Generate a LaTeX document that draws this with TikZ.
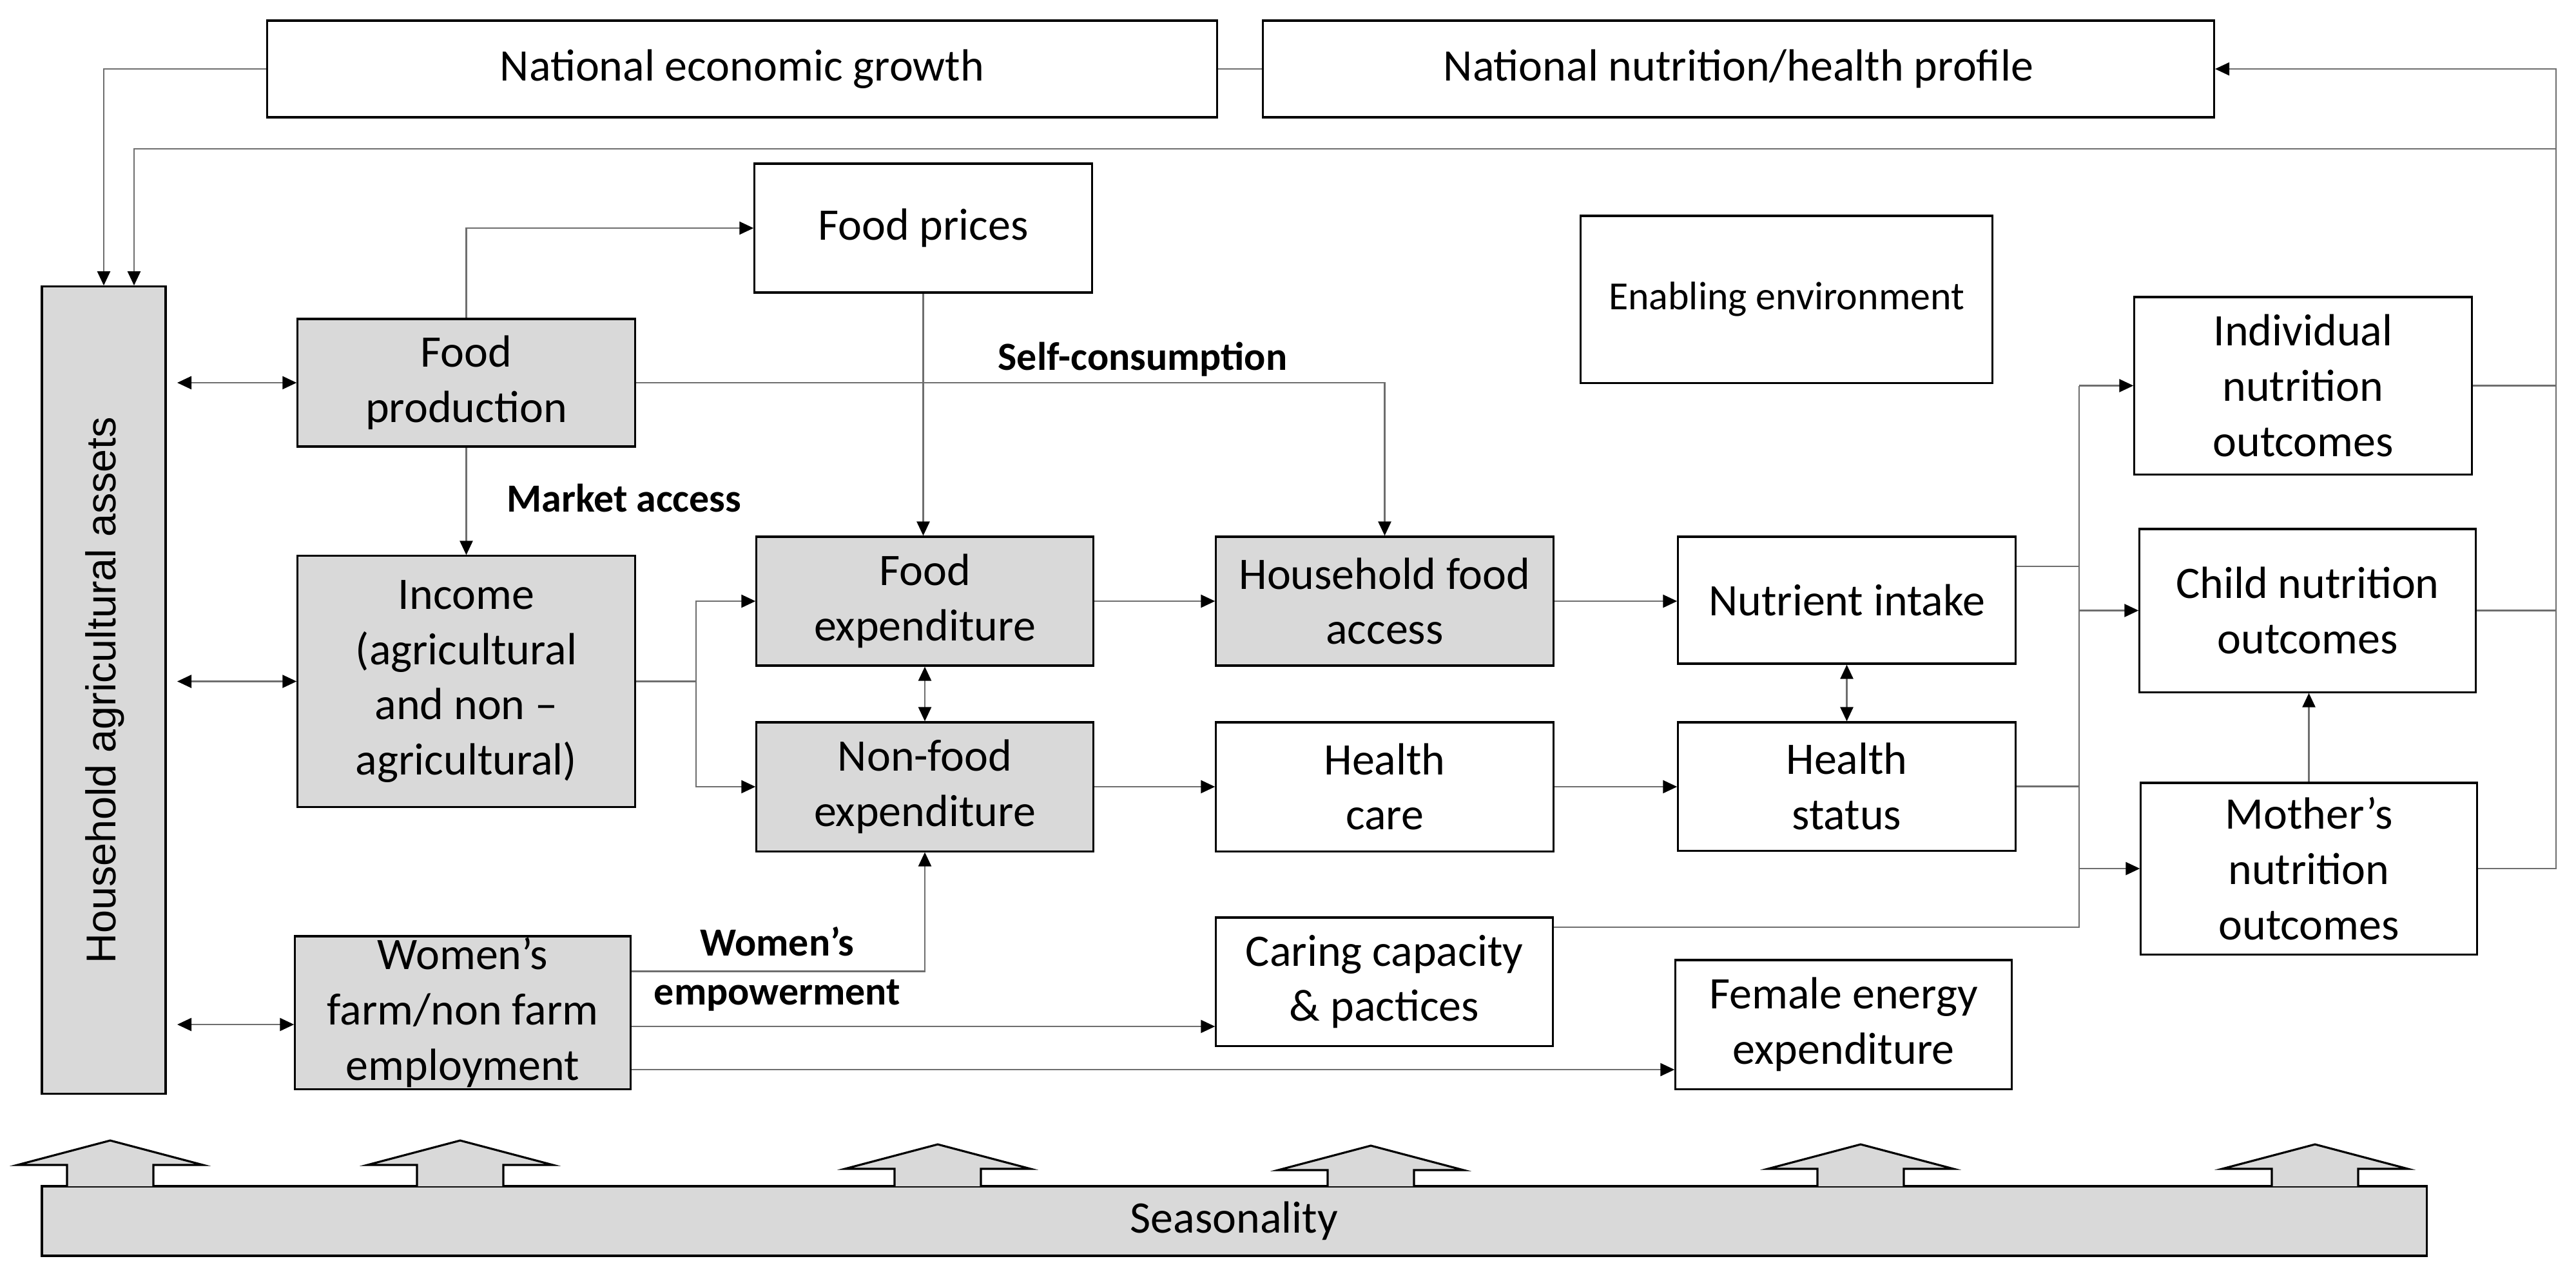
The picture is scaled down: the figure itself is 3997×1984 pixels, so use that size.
\documentclass[tikz,border=0pt]{standalone}
\usepackage{fontspec}
\setmainfont{Carlito}
\newfontfamily\haafont{Liberation Sans}
\usetikzlibrary{arrows.meta}
\definecolor{boxgray}{HTML}{D9D9D9}
\definecolor{linegray}{HTML}{6E6E6E}
\begin{document}
\begin{tikzpicture}[x=0.01cm,y=-0.01cm,
  box/.style={draw=black, line width=0.9pt, fill=white, inner sep=0pt, align=center,
    font=\fontsize{19.9pt}{24.4pt}\selectfont},
  gbox/.style={box, fill=boxgray},
  conn/.style={draw=linegray, line width=0.75pt},
  arr/.style={conn, -{Triangle[length=0.22cm,width=0.2cm,color=black]}},
  dbl/.style={conn, {Triangle[length=0.22cm,width=0.2cm,color=black]}-{Triangle[length=0.22cm,width=0.2cm,color=black]}},
  lab/.style={font=\bfseries\fontsize{17.6pt}{21.6pt}\selectfont, inner sep=0pt, align=center},
  blockarr/.style={draw=black, line width=0.9pt, fill=boxgray, line join=miter},
]
\useasboundingbox (0,0) rectangle (3997,1984);

% nodes
\node[box, minimum width=14.73cm, minimum height=1.50cm] (neg) at (1151.5,107) {National economic growth};
\node[box, minimum width=14.75cm, minimum height=1.50cm] (nnhp) at (2697.5,107) {National nutrition/health profile};
\node[box, minimum width=5.23cm, minimum height=2.00cm] (fp) at (1432.5,354) {Food prices};
\node[box, minimum width=6.38cm, minimum height=2.59cm, font=\fontsize{17.6pt}{21.6pt}\selectfont] (ee) at (2772,464.5) {Enabling environment};
\node[gbox, minimum width=5.23cm, minimum height=1.98cm] (fprod) at (723.5,594) {Food\\production};
\node[gbox, minimum width=1.92cm, minimum height=12.52cm] (haa) at (161,1071) {};
\node[rotate=90, inner sep=0pt, font=\haafont\fontsize{18.4pt}{22pt}\selectfont] (haatext) at (163,1071) {Household agricultural assets};
\node[gbox, minimum width=5.23cm, minimum height=3.89cm] (inc) at (723.5,1057.5) {Income\\(agricultural\\and non --\\agricultural)};
\node[gbox, minimum width=5.22cm, minimum height=2.00cm] (fe) at (1435,933) {Food\\expenditure};
\node[gbox, minimum width=5.22cm, minimum height=2.00cm] (nfe) at (1435,1221) {Non-food\\expenditure};
\node[gbox, minimum width=5.23cm, minimum height=2.00cm] (hfa) at (2148.5,933) {Household food\\access};
\node[box, minimum width=5.23cm, minimum height=2.00cm] (hc) at (2148.5,1221) {Health\\care};
\node[box, minimum width=5.23cm, minimum height=1.97cm] (ni) at (2865.5,931.5) {Nutrient intake};
\node[box, minimum width=5.23cm, minimum height=1.99cm] (hs) at (2865.5,1220.5) {Health\\status};
\node[box, minimum width=5.23cm, minimum height=2.75cm] (ino) at (3573.5,598.5) {Individual\\nutrition\\outcomes};
\node[box, minimum width=5.21cm, minimum height=2.53cm] (cno) at (3580.5,947.5) {Child nutrition\\outcomes};
\node[box, minimum width=5.21cm, minimum height=2.66cm] (mno) at (3582.5,1348) {Mother’s\\nutrition\\outcomes};
\node[box, minimum width=5.22cm, minimum height=1.99cm] (cc) at (2148,1523.5) {Caring capacity\\\& pactices};
\node[box, minimum width=5.21cm, minimum height=2.00cm] (fee) at (2860.5,1590) {Female energy\\expenditure};
\node[gbox, minimum width=5.20cm, minimum height=2.37cm] (wom) at (718,1571.5) {Women’s\\farm/non farm\\employment};
\node[gbox, minimum width=36.98cm, minimum height=1.08cm] (seas) at (1915,1895) {Seasonality};

% labels
\node[lab, anchor=base] (sclab) at (1773,574) {Self-consumption};
\node[lab, anchor=base west] (malab) at (786,794) {Market access};
\node[lab] (welab) at (1206,1504) {Women’s\\empowerment};

% helper coordinates
\coordinate (R) at (3966,231);
\coordinate (L) at (208,231);
\coordinate (hx) at (275,0);
\coordinate (ib) at (1080,1058);
\coordinate (V) at (3226,600);

% top connectors
\draw[conn] (neg.east) -- (nnhp.west);
\draw[arr] (neg.west) -| (haa.north);
\draw[arr] (R) -- (L) -- (L |- haa.north);
\draw[conn] (ino.east) -- (ino.east -| R);
\draw[conn] (cno.east) -- (cno.east -| R);
\draw[arr] (mno.east) -- (mno.east -| R) -- (R |- nnhp.east) -- (nnhp.east);

% food production
\draw[arr] (fprod.north) |- (fp.west);
\draw[arr] (fprod.east) -| (hfa.north);
\draw[arr] (fp.south) -- (fp.south |- fe.north);
\draw[arr] (fprod.south) -- (inc.north);

% assets double arrows
\draw[dbl] (hx |- fprod.west) -- (fprod.west);
\draw[dbl] (hx |- inc.west) -- (inc.west);
\path ([yshift=-0.185cm]wom.west) coordinate (ww);
\draw[dbl] (hx |- ww) -- (ww);

% income branch
\draw[conn] (inc.east) -- (inc.east -| ib);
\draw[arr] (inc.east -| ib) |- (fe.west);
\draw[arr] (inc.east -| ib) |- (nfe.west);

% middle rows
\draw[dbl] (fe.south) -- (nfe.north);
\draw[arr] (fe.east) -- (hfa.west);
\draw[arr] (hfa.east) -- (hfa.east -| ni.west);
\draw[arr] (nfe.east) -- (hc.west);
\draw[arr] (hc.east) -- (hc.east -| hs.west);
\draw[dbl] (ni.south) -- (hs.north);

% to outcomes
\path ([yshift=0.525cm]ni.east) coordinate (nie);
\draw[conn] (nie) -- (nie -| V);
\draw[conn] (hs.east) -- (hs.east -| V);
\path ([yshift=-0.165cm]cc.north east) coordinate (cce);
\draw[conn] (cce) -- (cce -| V) -- (V |- ino.west);
\draw[arr] (V |- ino.west) -- (ino.west);
\draw[arr] (V |- cno.west) -- (cno.west);
\draw[arr] (V |- mno.west) -- (mno.west);
\draw[arr] (mno.north) -- (mno.north |- cno.south);

% women's employment
\path ([yshift=-0.56cm]wom.north east) coordinate (we1);
\draw[arr] (we1) -| (nfe.south);
\path ([yshift=-0.215cm]wom.east) coordinate (we2);
\draw[arr] (we2) -- (we2 -| cc.west);
\path ([yshift=-0.885cm]wom.east) coordinate (we3);
\draw[arr] (we3) -- (we3 -| fee.west);

% seasonality block arrows
\foreach \cx/\ty in {171/1770, 714/1770, 1455/1776, 2127/1778, 2887/1776, 3592/1776}
  \draw[blockarr] (\cx-67,1841) -- (\cx-67,\ty+38) -- (\cx-144,\ty+38) -- (\cx,\ty)
     -- (\cx+144,\ty+38) -- (\cx+67,\ty+38) -- (\cx+67,1841);
\end{tikzpicture}
\end{document}
